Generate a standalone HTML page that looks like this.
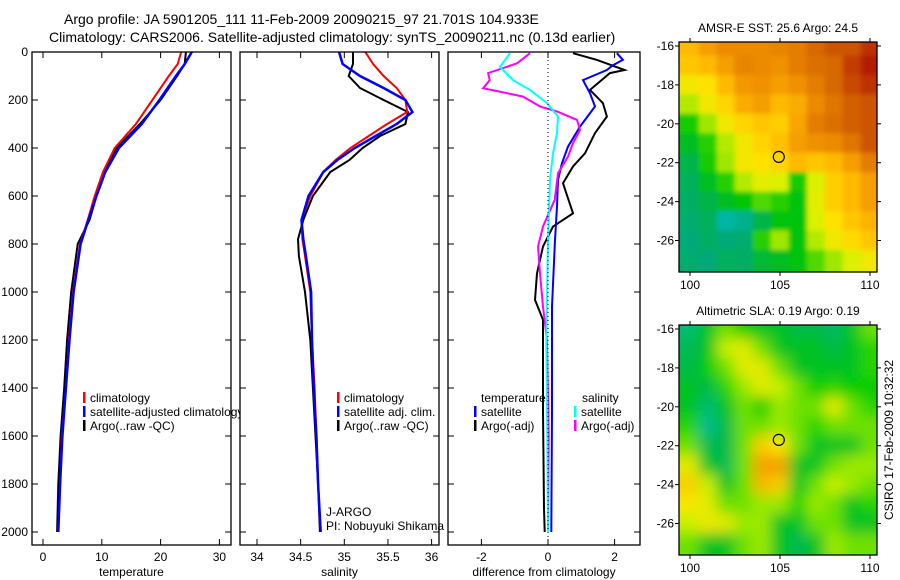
<!DOCTYPE html>
<html><head><meta charset="utf-8"><style>
body{margin:0;background:#fff;}
svg{display:block;font-family:"Liberation Sans",Arial,sans-serif;}
text{fill:#000;}
</style></head><body>
<svg id="fig" width="900" height="580" viewBox="0 0 900 580">
<rect width="900" height="580" fill="#fff"/>
<text x="64" y="24" font-size="14">Argo profile: JA 5901205_111 11-Feb-2009 20090215_97 21.701S 104.933E</text>
<text x="49" y="42" font-size="14">Climatology: CARS2006. Satellite-adjusted climatology: synTS_20090211.nc (0.13d earlier)</text>
<g id="panels"></g>
<g id="maps"></g>
<text transform="translate(893,440) rotate(-90)" text-anchor="middle" font-size="12">CSIRO 17-Feb-2009 10:32:32</text>
</svg>
<script>
// ---- profile data ----
const depthT=[0,50,100,200,300,400,500,600,700,800,1000,1200,1400,1600,1800,2000];
const tempClim=[23.5,22.9,21.4,18.6,15.8,12.2,10.2,8.8,7.6,6.3,5.1,4.4,3.9,3.2,2.9,2.6];
const tempSat=[25.3,24.1,22.6,19.8,16.8,12.9,10.6,9.1,7.7,6.4,5.2,4.5,3.9,3.3,2.9,2.6];
const tempArgo=[24.3,24.1,22.8,20.0,16.5,12.5,10.4,9.1,7.9,5.9,4.8,4.1,3.6,3.0,2.6,2.4];
const depthS=[0,50,100,150,200,250,300,350,400,450,500,600,700,780,850,1000,1200,1400,1600,1800,2000];
const salClim=[35.24,35.33,35.45,35.60,35.70,35.72,35.49,35.28,35.07,34.90,34.76,34.61,34.51,34.52,34.55,34.61,34.63,34.66,34.68,34.70,34.73];
const salSat=[34.94,34.98,35.18,35.45,35.70,35.78,35.60,35.36,35.12,34.92,34.76,34.59,34.51,34.53,34.56,34.62,34.63,34.65,34.68,34.70,34.73];
const salArgo=[35.10,35.10,35.05,35.18,35.45,35.73,35.70,35.41,35.21,35.06,34.84,34.64,34.53,34.47,34.48,34.55,34.61,34.64,34.67,34.70,34.72];
const dDepthBlack=[5,33,75,88,158,213,269,338,422,477,547,672,727,811,922,1033,1116,1200,1500,1900,2000];
const dBlack=[0.75,1.47,2.3,1.86,1.26,1.65,1.77,1.41,1.11,0.75,0.45,0.75,0.15,-0.15,-0.33,-0.39,-0.15,-0.15,-0.15,-0.12,-0.1];
const dDepthBlue=[5,33,55,75,117,172,227,311,394,463,533,644,783,1061,1500,2000];
const dBlue=[2.07,2.25,1.95,1.77,1.05,1.26,1.41,0.96,0.6,0.42,0.3,0.27,0.21,0.12,0.12,0.1];
const dDepthCyan=[5,62,117,158,213,269,338,422,533,783,1200,1600,2000];
const dCyan=[-1.14,-1.44,-1.05,-0.54,-0.03,0.3,0.27,0.15,0.06,0.0,-0.05,-0.02,0.0];
const dDepthMag=[5,47,88,117,151,165,186,227,248,283,325,380,436,505,616,727,811,922,1061,1200,1600,2000];
const dMag=[-0.54,-0.93,-1.8,-1.75,-1.95,-1.45,-0.75,-0.24,0.27,0.87,0.96,0.75,0.6,0.3,0.2,-0.15,-0.3,-0.24,-0.15,-0.03,0.02,0.0];
const depthTicks=[0,200,400,600,800,1000,1200,1400,1600,1800,2000];
const tempTicks=[0,10,20,30];
const salTicks=[34,34.5,35,35.5,36];
const diffTicks=[-2,0,2];
// ---- map data (rows lat -16..-27, cols lon 100..110) ----
const mapLons=[100,101,102,103,104,105,106,107,108,109,110];
const mapLats=[-16,-17,-18,-19,-20,-21,-22,-23,-24,-25,-26,-27];
const sstGrid=[
[25.6,26,26.3,26.3,26.3,26.4,26.5,26.8,27,27,27.3],
[25.4,25.6,26,26.4,26.3,26.2,26.5,26.7,26.8,27.2,27.5],
[24.8,25.0,25.6,26.1,26.2,26.0,26.2,26.5,26.8,27.1,27.3],
[24.3,24.8,25.2,25.8,26,25.6,25.8,26.3,26.6,26.9,27],
[23.5,24.2,24.8,25.2,25.4,25.3,25.9,26.5,26.7,26.9,27],
[23.2,23.6,24.3,24.8,25.2,25.5,26.0,26.2,26.3,26.6,27],
[23.0,23.5,24.2,24.8,25,25.2,25.6,25.4,25.6,26,26.5],
[22.8,23.2,23.6,24.3,24.6,24.5,23.5,24.5,25.3,25.6,26],
[22.7,23,23.2,23.4,23.8,23.6,23.3,24.6,25.3,25.6,26],
[22.6,22.8,22.3,22.4,23,23.3,23.3,24.5,25,25.4,25.7],
[22.5,22.7,22.5,22.6,23.6,24.2,23.3,24.3,24.8,25.1,25.4],
[22.6,22.5,22.8,22.7,23.1,23.2,23.3,23.8,24.2,24.5,24.8]];
const slaGrid=[
[.02,.06,.1,.07,.06,.06,.05,.05,.03,.06,.1],
[.04,.06,.14,.16,.1,.06,.06,.06,.05,.06,.08],
[.05,.07,.1,.16,.16,.1,.06,.06,.06,.06,.08],
[.06,.05,.08,.12,.16,.14,.1,.07,.08,.07,.07],
[.06,.02,.06,.1,.07,.12,.1,.1,.16,.1,.08],
[.08,.0,.05,.1,.1,.12,.1,.08,.1,.1,.1],
[.1,.04,.05,.1,.2,.18,.1,.06,.06,.06,.1],
[.16,.06,.04,.1,.24,.24,.06,.06,.1,.12,.12],
[.2,.14,.06,.1,.22,.2,.06,.1,.14,.12,.1],
[.18,.16,.1,.1,.12,.12,.08,.12,.1,.06,.08],
[.14,.17,.16,.12,.12,.06,.06,.1,.1,.06,.06],
[.1,.06,.06,.1,.12,.06,.04,.06,.12,.1,.1]];
const argoLon=104.933, argoLat=-21.701;
const lonTicks=[100,105,110];
const latTicks=[-16,-18,-20,-22,-24,-26];

const NS='http://www.w3.org/2000/svg';
function mk(tag,attrs,parent){const e=document.createElementNS(NS,tag);for(const k in attrs)e.setAttribute(k,attrs[k]);parent.appendChild(e);return e;}
const panelsG=document.getElementById('panels');
const Y0=52,Y1=545;
const yD=d=>52+d*0.24;

function panel(name,x0,x1,xs,ticks,fmt,label,series){
  const g=mk('g',{},panelsG);
  
  
  mk('rect',{x:x0,y:Y0,width:x1-x0,height:Y1-Y0,fill:'#fff'},g);
  const cid='clip-'+name;
  const cp=mk('clipPath',{id:cid},g);mk('rect',{x:x0,y:Y0,width:x1-x0,height:Y1-Y0},cp);
  const lg=mk('g',{'clip-path':'url(#'+cid+')'},g);
  series.forEach(s=>{
    const pts=s.v.map((v,i)=>xs(v).toFixed(1)+','+yD(s.d[i]).toFixed(1)).join(' ');
    const pl=mk('polyline',{points:pts,fill:'none',stroke:s.c,'stroke-width':s.w||2,'stroke-linejoin':'miter'},lg);
    
    
  });
  mk('rect',{x:x0,y:Y0,width:x1-x0,height:Y1-Y0,fill:'none',stroke:'#000','stroke-width':1.3},g);
  ticks.forEach(t=>{const x=xs(t);
    mk('line',{x1:x,x2:x,y1:Y1,y2:Y1-6,stroke:'#000'},g);
    mk('line',{x1:x,x2:x,y1:Y0,y2:Y0+6,stroke:'#000'},g);
    const tx=mk('text',{x:x,y:561,'font-size':12,'text-anchor':'middle'},g);tx.textContent=fmt(t);
    
    
  });
  depthTicks.forEach(d=>{const y=yD(d);
    mk('line',{x1:x0,x2:x0+6,y1:y,y2:y,stroke:'#000'},g);
    mk('line',{x1:x1,x2:x1-6,y1:y,y2:y,stroke:'#000'},g);});
  const lb=mk('text',{x:(x0+x1)/2,y:576,'font-size':12,'text-anchor':'middle'},g);lb.textContent=label;
  
  
  return g;
}
function legend(g,x,y,items){
  items.forEach((it,i)=>{
    if(it.c) mk('rect',{x:x,y:y+i*14-10,width:2.5,height:11,fill:it.c},g);
    const t=mk('text',{x:x+(it.c?7:0),y:y+i*14,'font-size':12},g);t.textContent=it.t;
    
    
  });
}
const xT=v=>43+v*5.88;
const p1=panel('temperature-panel',32,231,xT,tempTicks,t=>String(t),'temperature',[
 {v:tempArgo,d:depthT,c:'#000',n:'argo-temperature-line'},
 {v:tempClim,d:depthT,c:'#f00',n:'climatology-temperature-line'},
 {v:tempSat,d:depthT,c:'#00f',n:'satellite-temperature-line',w:2.5}]);
depthTicks.forEach(d=>{const t=mk('text',{x:28,y:yD(d)+4,'font-size':12,'text-anchor':'end'},p1);t.textContent=d;
 
 });
legend(p1,83,402,[{c:'#f00',t:'climatology'},{c:'#00f',t:'satellite-adjusted climatology'},{c:'#000',t:'Argo(..raw -QC)'}]);
const xS=v=>257+(v-34)*87.3;
const p2=panel('salinity-panel',240,439,xS,salTicks,t=>String(t),'salinity',[
 {v:salArgo,d:depthS,c:'#000',n:'argo-salinity-line'},
 {v:salClim,d:depthS,c:'#f00',n:'climatology-salinity-line'},
 {v:salSat,d:depthS,c:'#00f',n:'satellite-salinity-line',w:2.5}]);
legend(p2,337,402,[{c:'#f00',t:'climatology'},{c:'#00f',t:'satellite adj. clim.'},{c:'#000',t:'Argo(..raw -QC)'}]);
legend(p2,326,516,[{c:null,t:'J-ARGO'},{c:null,t:'PI: Nobuyuki Shikama'}]);
const xDf=v=>548+v*33.3;
const p3=panel('difference-panel',448,640,xDf,diffTicks,t=>String(t),'difference from climatology',[
 {v:dBlack,d:dDepthBlack,c:'#000',n:'argo-temp-diff-line'},
 {v:dBlue,d:dDepthBlue,c:'#00f',n:'satellite-temp-diff-line'},
 {v:dMag,d:dDepthMag,c:'#f0f',n:'argo-sal-diff-line'},
 {v:dCyan,d:dDepthCyan,c:'#0ff',n:'satellite-sal-diff-line'}]);
mk('line',{x1:xDf(0),x2:xDf(0),y1:Y0,y2:Y1,stroke:'#000','stroke-dasharray':'1,3'},p3);
legend(p3,481,402,[{c:null,t:'temperature'}]);
legend(p3,474,416,[{c:'#00f',t:'satellite'},{c:'#000',t:'Argo(-adj)'}]);
legend(p3,582,402,[{c:null,t:'salinity'}]);
legend(p3,574,416,[{c:'#0ff',t:'satellite'},{c:'#f0f',t:'Argo(-adj)'}]);

function cmap(stops,v){
  if(v<=stops[0][0])return stops[0][1];
  for(let i=1;i<stops.length;i++){if(v<=stops[i][0]){const a=stops[i-1],b=stops[i];const f=(v-a[0])/(b[0]-a[0]);
    const c=a[1].map((x,k)=>Math.round(x+(b[1][k]-x)*f));return c;}}
  return stops[stops.length-1][1];
}
const sstStops=[[22.0,[0,200,230]],[22.5,[0,170,120]],[23.0,[0,180,70]],[23.4,[0,200,0]],[24.0,[120,225,0]],[24.5,[220,240,0]],[25.0,[255,225,0]],[25.6,[255,185,0]],[26.2,[240,145,0]],[26.8,[215,105,0]],[27.5,[180,30,0]]];
const slaStops=[[0.0,[0,190,140]],[0.05,[0,185,70]],[0.07,[0,205,0]],[0.1,[110,225,0]],[0.14,[200,240,0]],[0.18,[250,230,0]],[0.24,[245,160,0]]];
const mapsG=document.getElementById('maps');
function drawMap(name,title,top,grid,stops,blur){
  const x0=679,x1=877,y0=top,y1=top+230;
  const xL=l=>690+(l-100)*18;
  const yL=l=>(top+4)+(-16-l)*19.45;
  const g=mk('g',{},mapsG);
  
  
  const t=mk('text',{x:778,y:top-10,'font-size':12,'text-anchor':'middle'},g);t.textContent=title;
  
  
  const cid='clip-'+name;
  const cp=mk('clipPath',{id:cid},g);mk('rect',{x:x0,y:y0,width:x1-x0,height:y1-y0},cp);
  const cg=mk('g',{'clip-path':'url(#'+cid+')'},g);
  let inner=cg;
  if(blur){const f=mk('filter',{id:'blur-'+name,x:'-10%',y:'-10%',width:'120%',height:'120%'},g);mk('feGaussianBlur',{stdDeviation:blur},f);
    inner=mk('g',{filter:'url(#blur-'+name+')'},cg);}
  grid.forEach((row,r)=>row.forEach((v,c)=>{
    const c3=cmap(stops,v);
    const cx=xL(mapLons[c]),cy=yL(mapLats[r]);
    const w=(c===0||c===row.length-1)?40:18.6, h=(r===0||r===grid.length-1)?40:20;
    const rx=c===0?cx-30:cx-9.3, ry=r===0?cy-30:cy-10;
    const cell=mk('rect',{x:rx,y:ry,width:w,height:h,fill:'rgb('+c3.join(',')+')'},inner);
    
    
  }));
  const m=mk('circle',{cx:xL(argoLon),cy:yL(argoLat),r:5.5,fill:'none',stroke:'#000','stroke-width':1.2},g);
  
  
  mk('rect',{x:x0,y:y0,width:x1-x0,height:y1-y0,fill:'none',stroke:'#000','stroke-width':1.3},g);
  lonTicks.forEach(l=>{const x=xL(l);
    mk('line',{x1:x,x2:x,y1:y0,y2:y0-4,stroke:'#000'},g);mk('line',{x1:x,x2:x,y1:y1,y2:y1+4,stroke:'#000'},g);
    const tt=mk('text',{x:x,y:y1+17,'font-size':12,'text-anchor':'middle'},g);tt.textContent=l;
    
    });
  latTicks.forEach(l=>{const y=yL(l);
    mk('line',{x1:x0,x2:x0-4,y1:y,y2:y,stroke:'#000'},g);mk('line',{x1:x1,x2:x1+4,y1:y,y2:y,stroke:'#000'},g);
    const tt=mk('text',{x:674,y:y+4,'font-size':12,'text-anchor':'end'},g);tt.textContent=l;
    
    });
}
drawMap('sst-map','AMSR-E SST: 25.6 Argo: 24.5',42,sstGrid,sstStops,2.5);
drawMap('sla-map','Altimetric SLA: 0.19 Argo: 0.19',325,slaGrid,slaStops,7);
</script>
</body></html>
